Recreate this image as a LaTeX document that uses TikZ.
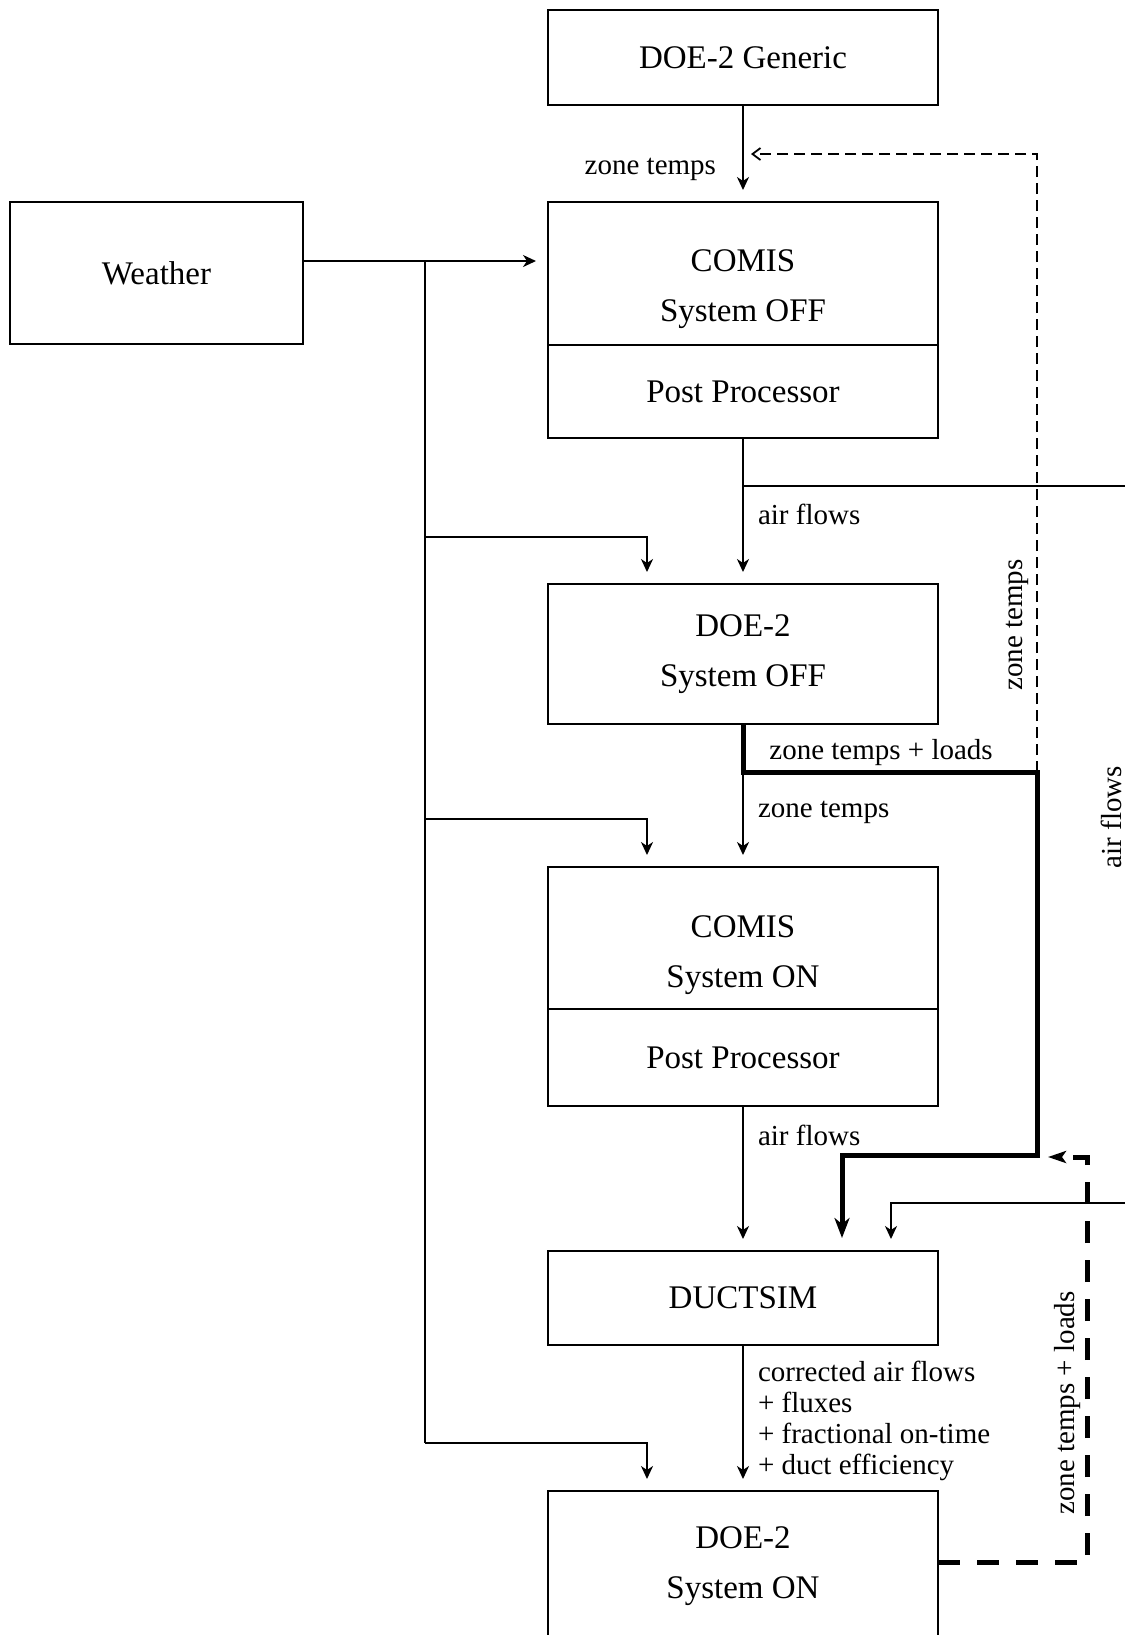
\documentclass[tikz,border=0pt]{standalone}
\usepackage{fontspec}
\setmainfont{Liberation Serif}
\usetikzlibrary{positioning,arrows.meta}

\begin{document}
\begin{tikzpicture}[x=0.5pt, y=-0.5pt,
  box/.style={draw, line width=1pt, outer sep=0pt, inner sep=0pt, minimum width=195pt, align=center, font=\fontsize{16.5}{25}\selectfont},
  txt/.style={align=center, inner sep=0pt, font=\fontsize{16.5}{25}\selectfont},
  lbl/.style={inner sep=0pt, align=left, font=\fontsize{14.5}{15.65}\selectfont},
  wire/.style={line width=1pt},
  arr/.style={line width=1pt, -{Stealth[length=6.5pt, width=6pt, inset=2pt]}, shorten >=6pt},
  heavy/.style={line width=2.5pt, -{Stealth[length=10pt, width=7.5pt, inset=3pt]}, shorten >=6.5pt},
  fbthin/.style={line width=0.9pt, dash pattern=on 5.5pt off 3pt, -{Straight Barb[length=4pt, width=6pt]}},
  fbheavy/.style={line width=2.5pt, dash pattern=on 11pt off 8.5pt, -{Stealth[length=9pt, width=6pt, inset=2pt]}}
]
\useasboundingbox (0,0) rectangle (1125,1635);
\clip (0,0) rectangle (1125,1635);

\node[box, minimum height=47.5pt] (gen) at (743,57.5) {DOE-2 Generic};
\node[box, minimum height=71.5pt, below=48.5pt of gen] (comisoff) {};
\node[box, minimum height=46.5pt, below=0pt of comisoff] (ppoff) {Post Processor};
\node[box, minimum height=70pt, below=73pt of ppoff] (doeoff) {DOE-2\\System OFF};
\node[box, minimum height=71pt, below=71.5pt of doeoff] (comison) {};
\node[box, minimum height=48.5pt, below=0pt of comison] (ppon) {Post Processor};
\node[box, minimum height=47pt, below=72.5pt of ppon] (duct) {DUCTSIM};
\node[box, minimum height=75pt, below=73pt of duct] (doeon) {DOE-2\\System ON};
\node[box, minimum width=146.5pt, minimum height=71pt] (weather) at (156.5,273) {Weather};
\node[txt] (comisofftxt) at ([yshift=-8pt]comisoff.center) {COMIS\\System OFF};
\node[txt] (comisontxt) at ([yshift=-8.5pt]comison.center) {COMIS\\System ON};

\coordinate (wout) at ([yshift=6pt]weather.east);
\coordinate (tr0) at (425,261);
\coordinate (tr1) at (425,537);
\coordinate (tr2) at (425,819);
\coordinate (tr3) at (425,1443);
\coordinate (afsplit) at (743,486);
\coordinate (afr1) at (1140,486);
\coordinate (afr2) at (1140,1203);
\coordinate (zcor) at (1037,772);
\coordinate (zcor2) at (1037,1155);
\coordinate (fbtip) at (751,154);
\coordinate (dcor) at (1087,1157);
\coordinate (dtip) at (1048,1157);

\draw[arr] (wout) -- (wout -| comisoff.west);
\draw[wire] (tr0) -- (tr3);
\draw[arr] (tr1) -| ([xshift=-48pt]doeoff.north);
\draw[arr] (tr2) -| ([xshift=-48pt]comison.north);
\draw[arr] (tr3) -| ([xshift=-48pt]doeon.north);

\draw[arr] (gen) -- node[lbl, pos=0.66, left=13pt] (lz1) {zone temps} (comisoff);
\draw[arr] (ppoff) -- node[lbl, pos=0.52, right=7pt] (laf1) {air flows} (doeoff);
\draw[arr] (afsplit) -- (afr1) -- (afr2) -| ([xshift=74pt]duct.north);
\node[lbl, rotate=90] (laf3) at (1111,817) {air flows};
\draw[arr] (doeoff) -- node[lbl, pos=0.615, right=7pt] (lz2) {zone temps} (comison);
\draw[heavy] (doeoff.south) |- (zcor) -- (zcor2) -| ([xshift=49.5pt]duct.north);
\node[lbl, anchor=west] (lztl) at (769,753) {zone temps + loads};
\draw[fbthin] (zcor) |- (fbtip);
\node[lbl, rotate=90] (lz3) at (1017,625) {zone temps};
\draw[arr] (ppon) -- node[lbl, pos=0.2, right=7pt] (laf2) {air flows} (duct);
\draw[arr] (duct) -- node[lbl, pos=0.52, right=7pt] (lout) {corrected air flows\\+ fluxes\\+ fractional on-time\\+ duct efficiency} (doeon);
\draw[fbheavy] ([yshift=2pt]doeon.east) -| (dcor) -- (dtip);
\node[lbl, rotate=90] (lztl2) at (1068,1403) {zone temps + loads};
\end{tikzpicture}
\end{document}
